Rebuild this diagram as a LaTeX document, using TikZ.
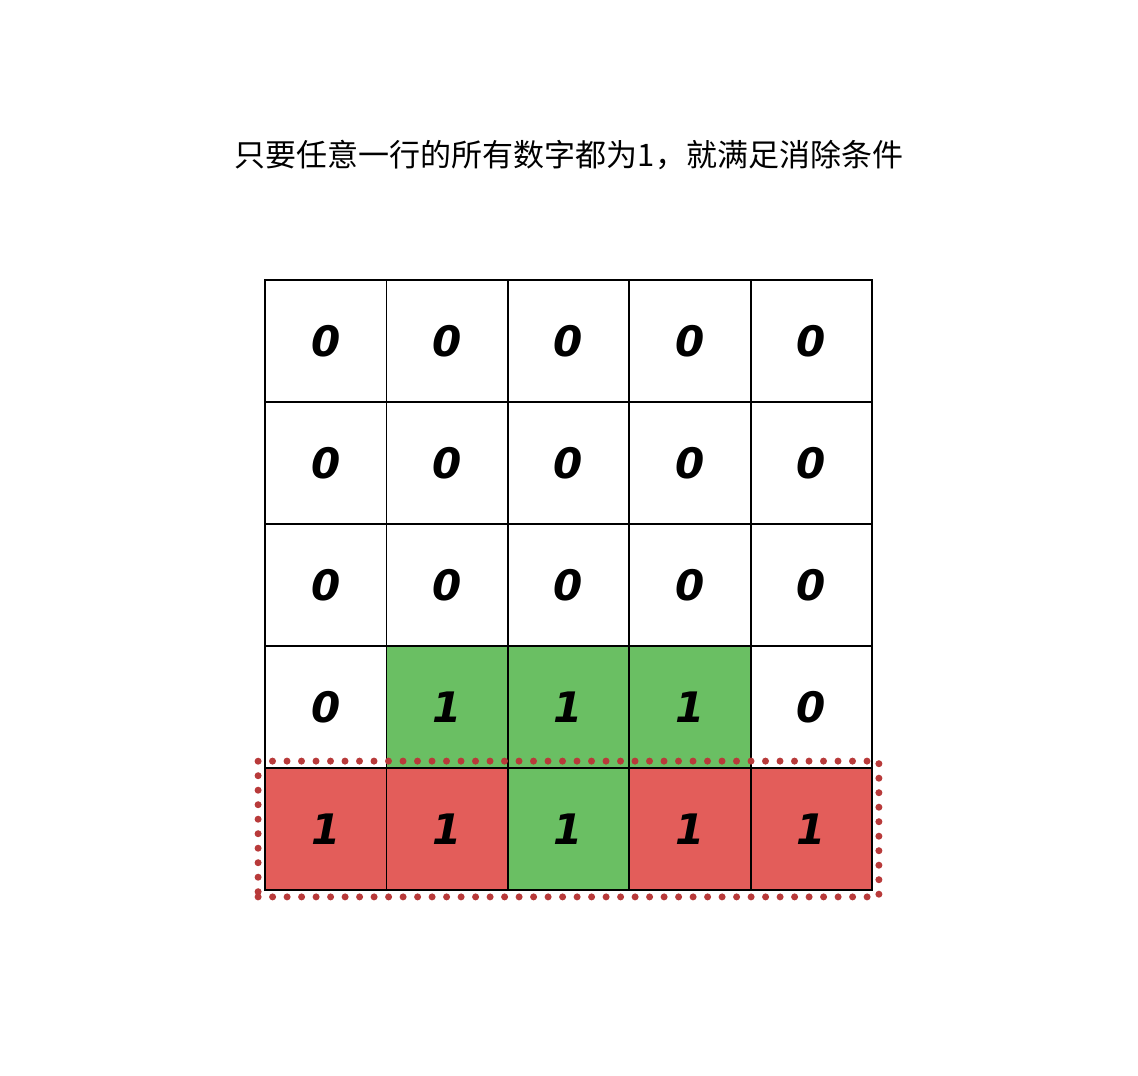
\documentclass[tikz,border=0pt]{standalone}
\usepackage{fontspec}
\newfontfamily\cjk{Noto Sans CJK SC}
\newfontfamily\digitfont{DejaVu Sans}
\usetikzlibrary{positioning,fit}
\definecolor{cellgreen}{HTML}{6ABF63}
\definecolor{cellred}{HTML}{E35D5A}
\definecolor{dotred}{HTML}{B83A3A}
\begin{document}
\begin{tikzpicture}[x=1pt,y=-1pt]
                \tikzstyle{every node}+=[inner sep=0pt]
                \tikzstyle{cell}=[draw=black, line width=1.8pt, minimum width=121.4pt, minimum height=122pt, font=\digitfont\bfseries\itshape\fontsize{42}{42}\selectfont]
                \tikzstyle{ok}=[cell, fill=cellgreen]
                \tikzstyle{hit}=[cell, fill=cellred]
                \useasboundingbox (0,0) rectangle (1138,1076);
                \node[font=\cjk\fontsize{31}{31}\selectfont] (title) at (569,155) {只要任意一行的所有数字都为1，就满足消除条件};
                \foreach \r in {1,2,3}
                  \foreach \c in {1,...,5}
                    \node[cell] (c\r\c) at ({265+121.4*(\c-0.5)},{280+122*(\r-0.5)}) {0};
                \foreach \c/\s/\v in {1/cell/0,2/ok/1,3/ok/1,4/ok/1,5/cell/0}
                    \node[\s] (c4\c) at ({265+121.4*(\c-0.5)},{280+122*3.5}) {\v};
                \foreach \c/\s in {1/hit,2/hit,3/ok,4/hit,5/hit}
                    \node[\s] (c5\c) at ({265+121.4*(\c-0.5)},{280+122*4.5}) {1};
                \node[draw=dotred, line width=7pt, dash pattern=on 0pt off 14.5pt, line cap=round, inner sep=6pt, fit=(c51)(c55)] (row5) {};
            \end{tikzpicture}
\end{document}
